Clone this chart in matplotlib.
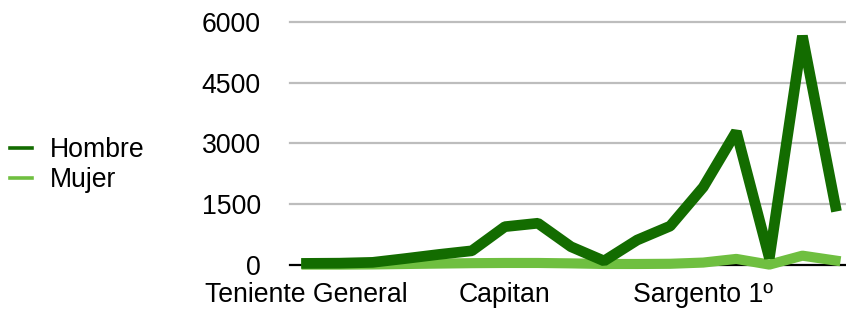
import matplotlib
matplotlib.use("Agg")
import matplotlib.pyplot as plt
from matplotlib.lines import Line2D

categories = ["Teniente General", "", "", "", "", "", "Capitan", "", "", "", "", "",
              "Sargento 1º", "", "", "", ""]
hombre = [40, 45, 65, 160, 260, 350, 945, 1030, 450, 100, 615, 960, 1920, 3290, 170, 5650, 1450]
mujer = [10, 10, 15, 25, 35, 45, 50, 50, 40, 25, 25, 30, 60, 150, 10, 230, 110]
yticks = [0, 1500, 3000, 4500, 6000]
series_names = ["Hombre", "Mujer"]

dark = "#136c00"
light = "#6fbf40"

plt.rcParams['font.family'] = ['Liberation Sans', 'DejaVu Sans']
fs = 19.2

W, H = 846, 309
fig = plt.figure(figsize=(W / 100, H / 100), dpi=100)
ax = fig.add_axes([290 / W, (H - 265) / H, (852 - 290) / W, (265 - 21.7) / H])

x = list(range(len(categories)))
ax.set_xlim(-0.5, len(categories) - 0.5)
ax.set_ylim(0, 6000)

for yv in yticks[1:]:
    ax.axhline(yv, color="#bdbdbd", lw=1.6, zorder=1, clip_on=False)
ax.axhline(0, color="black", lw=1.6, zorder=1, clip_on=False)

ax.plot(x, mujer, color=light, lw=7.3, zorder=3, clip_on=False, solid_joinstyle="bevel")
ax.plot(x, hombre, color=dark, lw=7.7, zorder=4, clip_on=False, solid_joinstyle="bevel")

for s in ax.spines.values():
    s.set_visible(False)
ax.set_yticks(yticks)
ax.set_yticklabels([str(v) for v in yticks], fontsize=fs)
ax.tick_params(axis="y", length=0, pad=21)
ticks_idx = [i for i, c in enumerate(categories) if c]
ax.set_xticks(ticks_idx)
ax.set_xticklabels([categories[i] for i in ticks_idx], fontsize=fs)
ax.tick_params(axis="x", length=0, pad=12)

handles = [Line2D([], [], color=dark, lw=2.6), Line2D([], [], color=light, lw=2.6)]
fig.legend(handles, series_names, loc="center left", bbox_to_anchor=(10 / W, 1 - 165 / H),
           frameon=False, fontsize=fs, handlelength=0.82, handletextpad=0.68,
           labelspacing=0.14, borderpad=0, borderaxespad=0)

fig.savefig("out.png", dpi=100)
